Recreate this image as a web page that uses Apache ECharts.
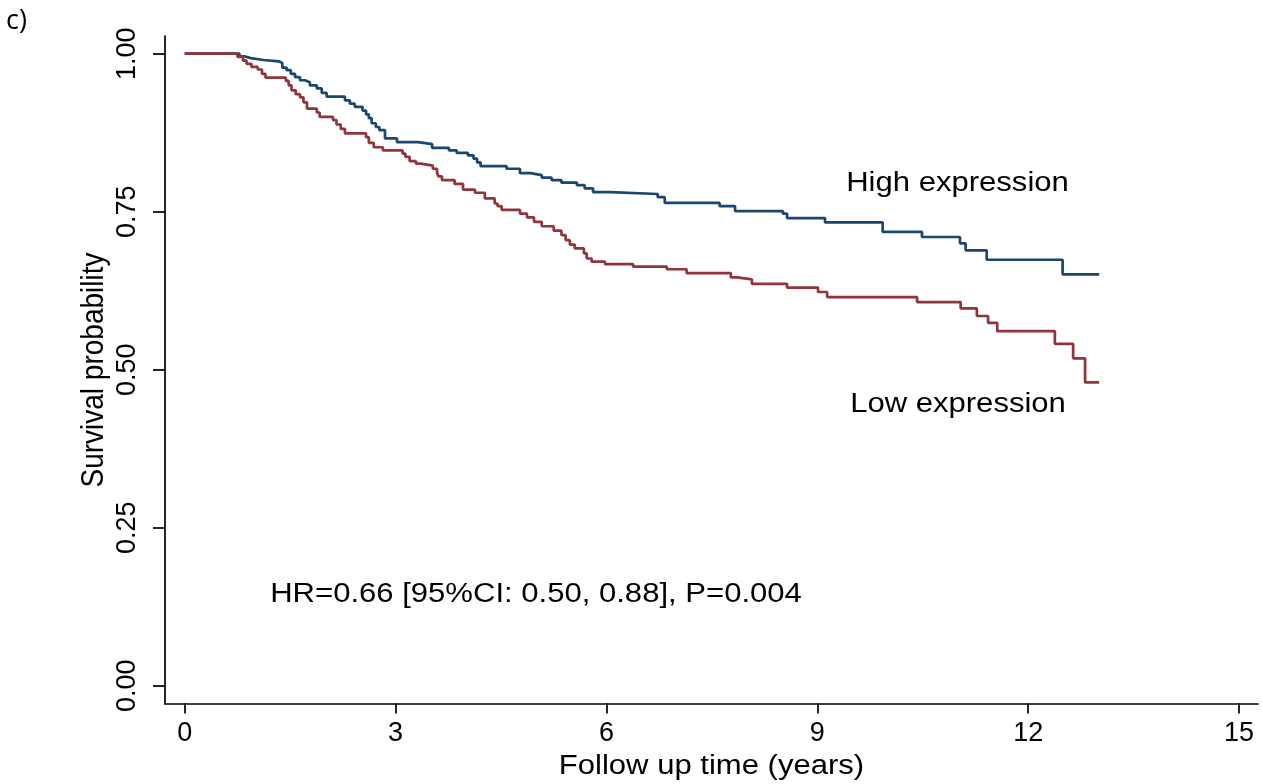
<!DOCTYPE html>
<html>
<head>
<meta charset="utf-8">
<script src="https://cdn.jsdelivr.net/npm/echarts@6/dist/echarts.min.js"></script>
<style>
  html, body { margin: 0; padding: 0; background: #fff; }
  #chart { width: 1262px; height: 784px; }
</style>
</head>
<body>
<div id="chart"></div>
<script>
// Kaplan-Meier estimates: time of each step (years) and survival after the step
const highTime = [0, 0.78, 0.85, 0.94, 1.12, 1.34, 1.39, 1.45, 1.51, 1.57, 1.64, 1.71, 1.78, 1.88, 1.95, 2.02, 2.28, 2.35, 2.42, 2.53, 2.58, 2.62, 2.66, 2.72, 2.77, 2.85, 3.02, 3.32, 3.52, 3.76, 3.87, 4.03, 4.11, 4.16, 4.21, 4.58, 4.77, 4.92, 5.08, 5.22, 5.36, 5.58, 5.69, 5.81, 6.05, 6.73, 6.83, 7.61, 7.83, 8.51, 8.57, 9.11, 9.93, 10.49, 11.03, 11.11, 11.41, 12.49, 13.01];
const highSurv = [1.000, 0.996, 0.993, 0.990, 0.988, 0.985, 0.978, 0.974, 0.968, 0.963, 0.958, 0.955, 0.950, 0.945, 0.938, 0.932, 0.926, 0.921, 0.916, 0.910, 0.904, 0.898, 0.890, 0.884, 0.879, 0.866, 0.860, 0.857, 0.851, 0.847, 0.843, 0.839, 0.834, 0.828, 0.822, 0.818, 0.811, 0.808, 0.804, 0.800, 0.796, 0.792, 0.787, 0.781, 0.778, 0.773, 0.764, 0.759, 0.751, 0.747, 0.740, 0.733, 0.718, 0.710, 0.700, 0.689, 0.674, 0.651, 0.651];

const lowTime = [0, 0.75, 0.83, 0.88, 0.95, 1.04, 1.10, 1.15, 1.44, 1.48, 1.52, 1.58, 1.64, 1.69, 1.74, 1.88, 1.92, 2.11, 2.16, 2.22, 2.28, 2.58, 2.62, 2.69, 2.82, 3.10, 3.14, 3.20, 3.29, 3.36, 3.53, 3.59, 3.61, 3.66, 3.84, 3.96, 4.13, 4.27, 4.41, 4.45, 4.51, 4.77, 4.87, 4.97, 5.08, 5.25, 5.36, 5.42, 5.48, 5.55, 5.68, 5.72, 5.79, 5.98, 6.38, 6.86, 7.14, 7.77, 7.86, 8.07, 8.57, 9.01, 9.14, 10.42, 11.04, 11.27, 11.43, 11.56, 12.38, 12.64, 12.81, 13.01];
const lowSurv = [1.000, 0.995, 0.989, 0.984, 0.979, 0.975, 0.968, 0.962, 0.957, 0.950, 0.942, 0.936, 0.931, 0.923, 0.913, 0.907, 0.900, 0.895, 0.888, 0.881, 0.874, 0.868, 0.859, 0.852, 0.847, 0.842, 0.837, 0.830, 0.826, 0.823, 0.818, 0.812, 0.806, 0.800, 0.794, 0.785, 0.780, 0.771, 0.763, 0.759, 0.753, 0.747, 0.741, 0.734, 0.727, 0.720, 0.713, 0.705, 0.698, 0.692, 0.684, 0.676, 0.671, 0.667, 0.663, 0.659, 0.653, 0.646, 0.643, 0.636, 0.630, 0.623, 0.615, 0.607, 0.597, 0.585, 0.574, 0.561, 0.541, 0.518, 0.480, 0.480];

const xTicks = [0, 3, 6, 9, 12, 15];
const yTicks = [0, 0.25, 0.5, 0.75, 1];

const seriesNames = ['High expression', 'Low expression'];
const annotation = 'HR=0.66 [95%CI: 0.50, 0.88], P=0.004';
const xTitle = 'Follow up time (years)';
const yTitle = 'Survival probability';
const panelTag = 'c)';

const pairs = (t, s) => t.map((v, i) => [v, s[i]]);

const FONT = '"Liberation Sans", Arial, Helvetica, sans-serif';
const WIDEN = 1.15;

const chart = echarts.init(document.getElementById('chart'), null, { renderer: 'canvas' });

const axisCommon = {
  axisLine: { show: true, onZero: false, lineStyle: { color: '#000', width: 1.7 } },
  axisTick: { show: true, length: 11, lineStyle: { color: '#000', width: 1.7 } },
  splitLine: { show: false }
};

chart.setOption({
  backgroundColor: '#fff',
  animation: false,
  grid: { left: 165, right: 4, top: 36, bottom: 80.5, containLabel: false },
  xAxis: Object.assign({}, axisCommon, {
    type: 'value',
    min: -0.28,
    max: 15.27,
    axisTick: Object.assign({}, axisCommon.axisTick, { customValues: xTicks, length: 10 }),
    axisLabel: {
      customValues: xTicks,
      color: '#000',
      fontFamily: FONT,
      fontSize: 27,
      margin: 17
    }
  }),
  yAxis: Object.assign({}, axisCommon, {
    type: 'value',
    min: -0.028,
    max: 1.028,
    axisTick: Object.assign({}, axisCommon.axisTick, { customValues: yTicks, length: 12 }),
    axisLabel: {
      customValues: yTicks,
      rotate: 90,
      color: '#000',
      fontFamily: FONT,
      fontSize: 27,
      margin: 24,
      formatter: v => v.toFixed(2)
    }
  }),
  series: [
    {
      name: seriesNames[0],
      type: 'line',
      step: 'end',
      data: pairs(highTime, highSurv),
      showSymbol: false,
      lineStyle: { color: '#1a476f', width: 2.7 },
      z: 2
    },
    {
      name: seriesNames[1],
      type: 'line',
      step: 'end',
      data: pairs(lowTime, lowSurv),
      showSymbol: false,
      lineStyle: { color: '#90353b', width: 2.7 },
      z: 3
    }
  ],
  graphic: [
    {
      type: 'text', x: 957.5, y: 183.5, scaleX: WIDEN,
      style: { text: seriesNames[0], font: '27px ' + FONT, fill: '#000', align: 'center', verticalAlign: 'middle' }
    },
    {
      type: 'text', x: 958, y: 405, scaleX: WIDEN,
      style: { text: seriesNames[1], font: '27px ' + FONT, fill: '#000', align: 'center', verticalAlign: 'middle' }
    },
    {
      type: 'text', x: 536, y: 595, scaleX: WIDEN,
      style: { text: annotation, font: '27px ' + FONT, fill: '#000', align: 'center', verticalAlign: 'middle' }
    },
    {
      type: 'text', x: 711.5, y: 767, scaleX: WIDEN,
      style: { text: xTitle, font: '27px ' + FONT, fill: '#000', align: 'center', verticalAlign: 'middle' }
    },
    {
      type: 'text', x: 94, y: 370, rotation: Math.PI / 2, scaleY: WIDEN,
      style: { text: yTitle, font: '28px ' + FONT, fill: '#000', align: 'center', verticalAlign: 'middle' }
    },
    {
      type: 'text', x: 6, y: 8,
      style: { text: panelTag, font: '27px "Open Sans", "Noto Sans", sans-serif', fill: '#000', align: 'left', verticalAlign: 'top' }
    }
  ]
});
</script>
</body>
</html>
